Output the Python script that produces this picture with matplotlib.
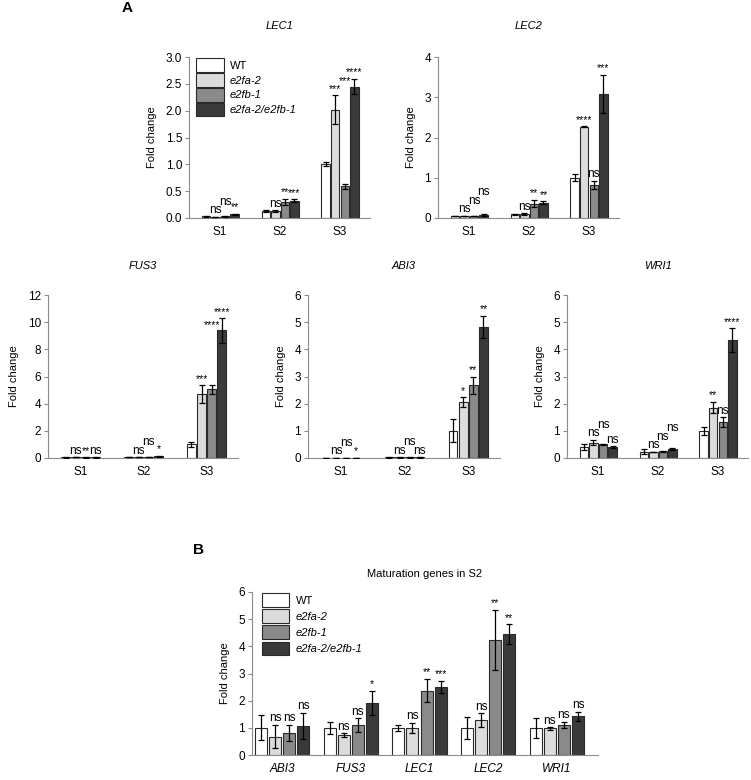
import matplotlib
matplotlib.use("Agg")
import numpy as np
import matplotlib.pyplot as plt
from matplotlib.patches import Patch
from matplotlib.transforms import Bbox

plt.rcParams['font.family'] = ['Liberation Sans', 'DejaVu Sans']
plt.rcParams['font.size'] = 8

# ---- data ----
stages = ['S1', 'S2', 'S3']
genotypes = ['WT', 'e2fa-2', 'e2fb-1', 'e2fa-2/e2fb-1']
colors = ['white', '#dcdcdc', '#8a8a8a', '#3a3a3a']

# rows: WT, e2fa-2, e2fb-1, e2fa-2/e2fb-1 ; columns: S1, S2, S3
lec1_mean = [[0.03, 0.13, 1.00], [0.02, 0.13, 2.02], [0.03, 0.30, 0.59], [0.07, 0.32, 2.45]]
lec1_err = [[0.005, 0.01, 0.04], [0.005, 0.015, 0.27], [0.005, 0.06, 0.05], [0.01, 0.03, 0.14]]
lec1_sig = [['ns', 'ns', '**'], ['ns', '**', '***'], ['***', '***', '****']]

lec2_mean = [[0.05, 0.09, 1.00], [0.05, 0.10, 2.27], [0.05, 0.36, 0.82], [0.08, 0.38, 3.08]]
lec2_err = [[0.01, 0.02, 0.09], [0.01, 0.02, 0.01], [0.01, 0.09, 0.11], [0.02, 0.03, 0.48]]
lec2_sig = [['ns', 'ns', 'ns'], ['ns', '**', '**'], ['****', 'ns', '***']]

fus3_mean = [[0.04, 0.05, 1.00], [0.05, 0.06, 4.70], [0.04, 0.07, 5.05], [0.04, 0.12, 9.40]]
fus3_err = [[0.005, 0.005, 0.17], [0.005, 0.01, 0.64], [0.005, 0.01, 0.32], [0.005, 0.03, 0.90]]
fus3_sig = [['ns', '**', 'ns'], ['ns', 'ns', '*'], ['***', '****', '****']]

abi3_mean = [[0.01, 0.02, 1.00], [0.005, 0.02, 2.05], [0.005, 0.02, 2.67], [0.005, 0.02, 4.82]]
abi3_err = [[0.002, 0.003, 0.42], [0.001, 0.003, 0.18], [0.001, 0.003, 0.31], [0.001, 0.003, 0.42]]
abi3_sig = [['ns', 'ns', '*'], ['ns', 'ns', 'ns'], ['*', '**', '**']]

wri1_mean = [[0.41, 0.23, 1.00], [0.57, 0.22, 1.85], [0.50, 0.25, 1.33], [0.40, 0.32, 4.35]]
wri1_err = [[0.10, 0.09, 0.15], [0.10, 0.01, 0.21], [0.03, 0.02, 0.18], [0.04, 0.04, 0.43]]
wri1_sig = [['ns', 'ns', 'ns'], ['ns', 'ns', 'ns'], ['**', 'ns', '****']]

genes_b = ['ABI3', 'FUS3', 'LEC1', 'LEC2', 'WRI1']
s2_mean = [[1.0, 1.0, 1.0, 1.0, 1.0], [0.68, 0.74, 1.00, 1.28, 0.98],
           [0.82, 1.11, 2.37, 4.23, 1.11], [1.08, 1.93, 2.50, 4.45, 1.42]]
s2_err = [[0.46, 0.21, 0.12, 0.40, 0.36], [0.44, 0.07, 0.19, 0.26, 0.05],
          [0.30, 0.25, 0.43, 1.11, 0.12], [0.48, 0.44, 0.23, 0.37, 0.18]]
s2_sig = [['ns', 'ns', 'ns'], ['ns', 'ns', '*'], ['ns', '**', '***'],
          ['ns', '**', '**'], ['ns', 'ns', 'ns']]

W, H = 751, 780
fig = plt.figure(figsize=(W / 100, H / 100), dpi=100)


def add_ax(l, r, t, b):
    return fig.add_axes([l / W, 1 - b / H, (r - l) / W, (b - t) / H])


def style(ax):
    for s in ['top', 'right']:
        ax.spines[s].set_visible(False)
    for s in ['left', 'bottom']:
        ax.spines[s].set_color('#8c8c8c')
        ax.spines[s].set_linewidth(0.8)
    ax.tick_params(axis='y', length=3, width=0.8, color='#8c8c8c', pad=2, labelsize=8.5)
    ax.tick_params(axis='x', length=0, pad=6, labelsize=8.5)


def draw_bars(ax, cats, mean, err, step, width):
    x = np.arange(len(cats))
    tops = []
    bars = []
    for i in range(4):
        xi = x + (i - 1.5) * step
        b = ax.bar(xi, mean[i], width, color=colors[i], edgecolor='#2a2a2a', linewidth=0.8, zorder=2)
        ax.errorbar(xi, mean[i], yerr=err[i], fmt='none', ecolor='black',
                    elinewidth=0.9, capsize=2.5, capthick=0.9, zorder=3)
        tops.append(np.array(mean[i]) + np.array(err[i]))
        bars.extend(b.patches)
    ax.set_xticks(x)
    return x, tops, bars


def place_sig(ax, x, tops, sig, step, bars):
    # significance labels sit above the error bar; asterisks are lifted over a
    # neighbouring taller bar, and any label is lifted over an earlier one it hits
    r = fig.canvas.get_renderer()
    bar_boxes = [p.get_window_extent(r) for p in bars]
    placed = []
    for g in range(len(x)):
        for k in range(3):
            lab = sig[g][k]
            xi = x[g] + (k + 1 - 1.5) * step
            off = 2.5
            t = ax.annotate(lab, (xi, tops[k + 1][g]), xytext=(0, off),
                            textcoords='offset points', ha='center', va='baseline',
                            fontsize=8.5 if lab == 'ns' else 7.5, annotation_clip=False)
            for _ in range(8):
                full = t.get_window_extent(r)
                bb = Bbox([[full.x0 + 1, full.y0 + 2], [full.x1 - 1, full.y1 - 2]])
                lift = 0
                for pb in placed:
                    if bb.overlaps(pb):
                        lift = max(lift, pb.y1 - bb.y0 + 0.5)
                if lab != 'ns':
                    wide = Bbox([[full.x0 + 0.3, bb.y0], [full.x1 - 0.3, bb.y1]])
                    for qb in bar_boxes:
                        if wide.overlaps(qb):
                            lift = max(lift, qb.y1 - bb.y0 + 2)
                if lift <= 0:
                    break
                off += lift * 72 / fig.dpi
                t.xyann = (0, off)
            placed.append(bb)


def add_legend(ax, spacing):
    handles = [Patch(facecolor=c, edgecolor='#2a2a2a', linewidth=0.8) for c in colors]
    leg = ax.legend(handles, genotypes, loc='upper left', bbox_to_anchor=(0.015, 1.02),
                    frameon=False, handlelength=2.5, handleheight=1.5,
                    labelspacing=spacing, handletextpad=0.55, borderaxespad=0, fontsize=8)
    for i, txt in enumerate(leg.get_texts()):
        if i > 0:
            txt.set_fontstyle('italic')


top_panels = [
    ('LEC1', lec1_mean, lec1_err, lec1_sig, (189, 370, 57, 218), 3.0, 0.5, True),
    ('LEC2', lec2_mean, lec2_err, lec2_sig, (438, 619, 57, 218), 4, 1, False),
    ('FUS3', fus3_mean, fus3_err, fus3_sig, (48, 238, 295, 458), 12, 2, False),
    ('ABI3', abi3_mean, abi3_err, abi3_sig, (308, 500, 295, 458), 6, 1, False),
    ('WRI1', wri1_mean, wri1_err, wri1_sig, (567, 748, 295, 458), 6, 1, False),
]

for name, m, e, sg, box, ymax, ystep, legend in top_panels:
    ax = add_ax(*box)
    style(ax)
    x, tops, bars = draw_bars(ax, stages, m, e, 0.16, 0.14)
    ax.set_xticklabels(stages)
    ax.set_xlim(-0.52, 2.5)
    ax.set_ylim(0, ymax)
    ticks = np.arange(0, ymax + ystep / 2, ystep)
    ax.set_yticks(ticks)
    if ystep < 1:
        ax.set_yticklabels(['%.1f' % v for v in ticks])
    ax.set_ylabel('Fold change', fontsize=8, labelpad=6)
    pad = 20 if box[2] < 100 else 19
    ax.set_title(name, fontstyle='italic', fontsize=8, pad=pad)
    place_sig(ax, x, tops, sg, 0.16, bars)
    if legend:
        add_legend(ax, 0.12)

# ---- panel B ----
axb = add_ax(252, 598, 592, 755)
style(axb)
xb, topsb, barsb = draw_bars(axb, genes_b, s2_mean, s2_err, 0.205, 0.175)
axb.set_xticklabels(genes_b, fontstyle='italic')
axb.set_xlim(-0.44, 4.6)
axb.set_ylim(0, 6)
axb.set_yticks(range(0, 7))
axb.set_ylabel('Fold change', fontsize=8, labelpad=6)
axb.set_title('Maturation genes in S2', fontsize=8, pad=11)
place_sig(axb, xb, topsb, s2_sig, 0.205, barsb)
add_legend(axb, 0.23)

fig.text(127 / W, 1 - 8 / H, 'A', fontsize=11, fontweight='bold', ha='center', va='center')
fig.text(198 / W, 1 - 550 / H, 'B', fontsize=11, fontweight='bold', ha='center', va='center')

fig.savefig('out.png', dpi=100)
